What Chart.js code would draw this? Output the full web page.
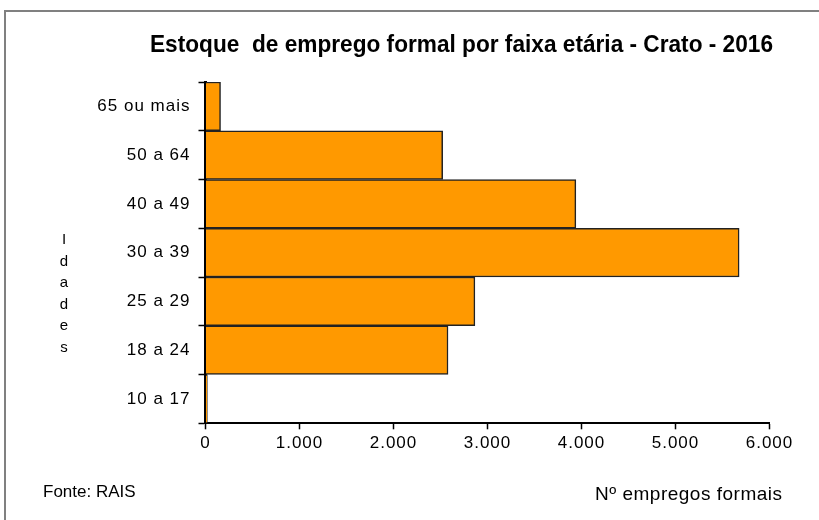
<!DOCTYPE html>
<html><head><meta charset="utf-8">
<script src="https://cdn.jsdelivr.net/npm/chart.js@4"></script>
<style>html,body{margin:0;padding:0;background:#fff}#wrap{width:819px;height:520px;position:relative}</style>
</head><body><div id="wrap"><canvas id="c" width="819" height="520"></canvas></div>
<script>
const categories = ['65 ou mais', '50 a 64', '40 a 49', '30 a 39', '25 a 29', '18 a 24', '10 a 17'];
const empregos = [160, 2523, 3940, 5677, 2866, 2580, 20];
const xTicks = [0, 1000, 2000, 3000, 4000, 5000, 6000];
const titleText = 'Estoque  de emprego formal por faixa etária - Crato - 2016';
const yTitleLetters = ['I', 'd', 'a', 'd', 'e', 's'];
const sourceText = 'Fonte: RAIS';
const xTitleText = 'Nº empregos formais';

const FONT = '"Liberation Sans", Arial, sans-serif';
const fmt = v => String(v).replace(/\B(?=(\d{3})+(?!\d))/g, '.');

const decor = {
  id: 'decor',
  beforeDraw(chart) {
    const ctx = chart.ctx;
    ctx.save();
    ctx.fillStyle = '#fff';
    ctx.fillRect(0, 0, chart.width, chart.height);
    ctx.restore();
    ctx.letterSpacing = '1px';
  },
  afterDraw(chart) {
    const ctx = chart.ctx;
    ctx.letterSpacing = '0px';
    ctx.save();
    // frame
    ctx.strokeStyle = '#808080';
    ctx.lineWidth = 2;
    ctx.strokeRect(5, 11, 900, 600);
    // title
    ctx.fillStyle = '#000';
    ctx.font = 'bold 24px ' + FONT;
    ctx.textAlign = 'center';
    ctx.textBaseline = 'alphabetic';
    ctx.fillText(titleText, 461.5, 52, 623);
    // vertical axis title (stacked letters)
    ctx.font = '15px ' + FONT;
    ctx.textBaseline = 'middle';
    yTitleLetters.forEach((ch, i) => ctx.fillText(ch, 64, 240 + i * 21.5));
    // source
    ctx.textAlign = 'left';
    ctx.textBaseline = 'alphabetic';
    ctx.font = '17px ' + FONT;
    ctx.fillText(sourceText, 43, 497);
    // x axis title
    ctx.font = '19px ' + FONT;
    ctx.letterSpacing = '0.5px';
    ctx.fillText(xTitleText, 595, 500);
    ctx.letterSpacing = '0px';
    ctx.restore();
  }
};

new Chart(document.getElementById('c'), {
  type: 'bar',
  data: {
    labels: categories,
    datasets: [{
      data: empregos,
      backgroundColor: '#FF9900',
      borderColor: '#222',
      borderWidth: 1.5,
      barPercentage: 1,
      categoryPercentage: 1
    }]
  },
  options: {
    indexAxis: 'y',
    responsive: false,
    animation: false,
    devicePixelRatio: 1,
    layout: { padding: { top: 82, right: 49.5, bottom: 0, left: 0 } },
    plugins: { legend: { display: false }, title: { display: false }, tooltip: { enabled: false } },
    scales: {
      x: {
        type: 'linear',
        min: 0,
        max: 6000,
        afterBuildTicks: s => { s.ticks = xTicks.map(v => ({ value: v })); },
        afterFit: s => { s.height = 96.7; },
        ticks: { callback: v => fmt(v), color: '#000', font: { family: FONT, size: 17 }, padding: 4, maxRotation: 0 },
        grid: { drawOnChartArea: false, drawTicks: true, tickLength: 6, tickColor: '#000', tickWidth: 1.5 },
        border: { color: '#000', width: 2 }
      },
      y: {
        type: 'category',
        afterFit: s => { s.width = 205.5; },
        ticks: { color: '#000', font: { family: FONT, size: 17 }, padding: 8 },
        grid: { offset: true, drawOnChartArea: false, drawTicks: true, tickLength: 7, tickColor: '#000', tickWidth: 1.5 },
        border: { color: '#000', width: 3 }
      }
    }
  },
  plugins: [decor]
});
</script>
</body></html>
